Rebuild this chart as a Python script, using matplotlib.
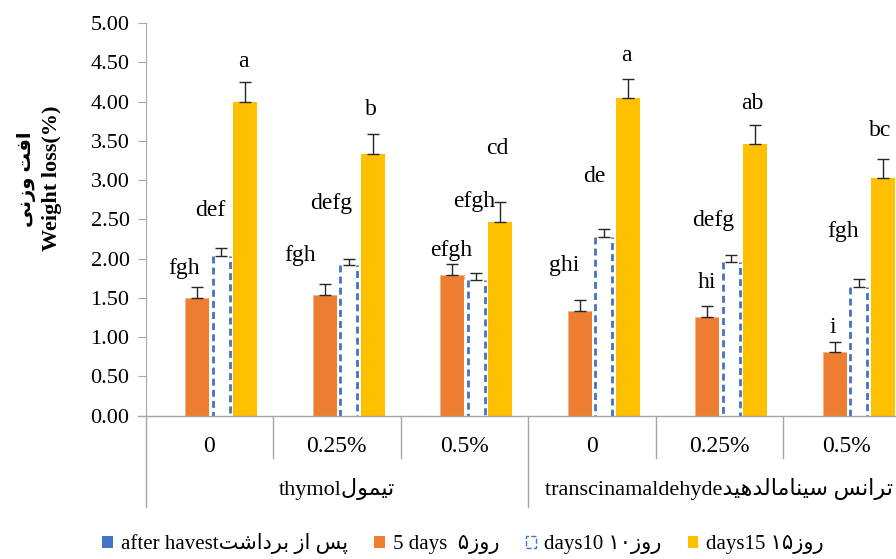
import matplotlib
matplotlib.use('Agg')
import matplotlib.pyplot as plt
from matplotlib.patches import Patch
import numpy as np

plt.rcParams['font.family'] = ['Liberation Serif', 'DejaVu Sans']
plt.rcParams['lines.scale_dashes'] = False

# Persian words written in visual order with presentation forms
# (matplotlib does no Arabic shaping / bidi on its own)
fa_weight = '\uFBFD\uFEE7\uFEAF\uFEED \uFE96\uFED3\uFE8D'          # افت وزنی
fa_thymol = '\uFEDD\uFEEE\uFEE4\uFBFF\uFE97'                          # تیمول
fa_trans = ('\uFEAA\uFBFF\uFEEB\uFEAA\uFEDF\uFE8E\uFEE3\uFE8E\uFEE8\uFBFF\uFEB3'
            ' \uFEB2\uFEE7\uFE8D\uFEAE\uFE97')                        # ترانس سینامالدهید
fa_after = '\uFE96\uFEB7\uFE8D\uFEA9\uFEAE\uFE91 \uFEAF\uFE8D \uFEB2\uFB58'  # پس از برداشت
fa_day = '\uFEAF\uFEED\uFEAD'                                         # روز

# data
doses = ['0', '0.25%', '0.5%', '0', '0.25%', '0.5%']
groups = ['thymol' + fa_thymol, 'transcinamaldehyde' + fa_trans]

after_harvest = [0, 0, 0, 0, 0, 0]
days5 = [1.50, 1.54, 1.79, 1.33, 1.26, 0.81]
days5_err = [0.14, 0.14, 0.14, 0.14, 0.13, 0.13]
days10 = [2.03, 1.92, 1.73, 2.27, 1.96, 1.64]
days10_err = [0.10, 0.08, 0.08, 0.11, 0.09, 0.10]
days15 = [4.00, 3.33, 2.47, 4.04, 3.46, 3.02]
days15_err = [0.25, 0.25, 0.25, 0.25, 0.24, 0.25]

letters5 = ['fgh', 'fgh', 'efgh', 'ghi', 'hi', 'i']
letters10 = ['def', 'defg', 'efgh', 'de', 'defg', 'fgh']
letters15 = ['a', 'b', 'cd', 'a', 'ab', 'bc']

# where the letters sit: x offset from the category centre, y in data units
lab5_dx = [-0.20, -0.29, -0.10, -0.22, -0.10, -0.11]
lab5_y = [1.87, 2.04, 2.10, 1.91, 1.70, 1.12]
lab10_dx = [0.005, -0.04, 0.08, 0.02, -0.05, -0.03]
lab10_y = [2.61, 2.70, 2.72, 3.04, 2.49, 2.35]
lab15_dx = [0.27, 0.27, 0.26, 0.27, 0.26, 0.26]
lab15_y = [4.51, 3.90, 3.40, 4.58, 3.98, 3.63]

blue = '#4472C4'
orange = '#ED7D31'
yellow = '#FFC000'
grey = '#A6A6A6'
ecol = '#262626'

fig = plt.figure(figsize=(8.96, 5.59), dpi=100)
ax = fig.add_axes([0.1624, 0.2567, 0.8538, 0.7021])

x = np.arange(len(doses))
w = 0.1875
zeros = np.zeros(len(doses))

ax.bar(x - 1.5 * w, after_harvest, w, color=blue)
ax.bar(x - 0.5 * w, days5, w, color=orange, edgecolor='#F4B183', linewidth=0.6)
ax.bar(x + 0.5 * w, days10, w, color='white')
# dashed vertical pattern of the 10 days bars
for xi, v in zip(x + 0.5 * w, days10):
    ax.plot([xi - 0.36 * w] * 2, [v, 0], color=blue, lw=2, ls=(0, (5, 3)))
    ax.plot([xi + 0.36 * w] * 2, [v, 0], color=blue, lw=2, ls=(4, (5, 3)))
ax.bar(x + 1.5 * w, days15, w, color=yellow)

for xs, vals, err in [(x - 0.5 * w, days5, days5_err),
                      (x + 0.5 * w, days10, days10_err),
                      (x + 1.5 * w, days15, days15_err)]:
    ax.errorbar(xs, vals, yerr=[zeros, err], fmt='none', ecolor=ecol,
                elinewidth=1, capsize=4, capthick=1)

for lets, dx, ly in [(letters5, lab5_dx, lab5_y),
                     (letters10, lab10_dx, lab10_y),
                     (letters15, lab15_dx, lab15_y)]:
    for i in range(len(doses)):
        ax.text(x[i] + dx[i], ly[i], lets[i], ha='center', va='center', fontsize=17)

ax.set_xlim(-0.5, 5.5)
ax.set_ylim(0, 5)
ax.set_yticks(np.arange(0, 5.01, 0.5))
ax.set_yticklabels(['%.2f' % t for t in np.arange(0, 5.01, 0.5)])
ax.tick_params(axis='y', length=5.5, color=grey, labelsize=16, pad=6)
ax.set_xticks([])
for s in ['top', 'right', 'bottom']:
    ax.spines[s].set_visible(False)
ax.spines['left'].set_color(grey)

# two level category axis
tr = ax.get_xaxis_transform()
ax.plot([-0.56, 5.6], [0, 0], transform=tr, color=grey, lw=1, clip_on=False)
for b in [0.5, 1.5, 3.5, 4.5]:
    ax.plot([b, b], [0, -0.108], transform=tr, color=grey, lw=1, clip_on=False)
for b in [-0.5, 2.5, 5.5]:
    ax.plot([b, b], [0, -0.233], transform=tr, color=grey, lw=1, clip_on=False)
for i, d in enumerate(doses):
    ax.text(x[i], -0.078, d, transform=tr, ha='center', va='center', fontsize=17)
ax.text(1, -0.187, groups[0], transform=tr, ha='center', va='center', fontsize=16)
ax.text(4, -0.187, groups[1], transform=tr, ha='center', va='center', fontsize=16)

fig.text(0.058, 0.6816, 'Weight loss(%)', rotation=90, fontweight='bold',
         fontsize=16, ha='center', va='center')
fig.text(0.030, 0.6800, fa_weight, rotation=90, fontweight='bold',
         fontsize=14, ha='center', va='center')

handles = [Patch(facecolor=blue),
           Patch(facecolor=orange),
           Patch(facecolor='white', edgecolor=blue, linestyle='--', linewidth=1),
           Patch(facecolor=yellow)]
labels = ['after havest' + fa_after,
          '5 days  \u06F5' + fa_day,
          'days10 \u06F1\u06F0' + fa_day,
          'days15 \u06F1\u06F5' + fa_day]
fig.legend(handles, labels, loc='center', bbox_to_anchor=(0.517, 0.027), ncol=4,
           frameon=False, fontsize=15, handlelength=0.5, handleheight=0.5,
           handletextpad=0.4, columnspacing=1.25)

fig.savefig('out.png', dpi=100)
